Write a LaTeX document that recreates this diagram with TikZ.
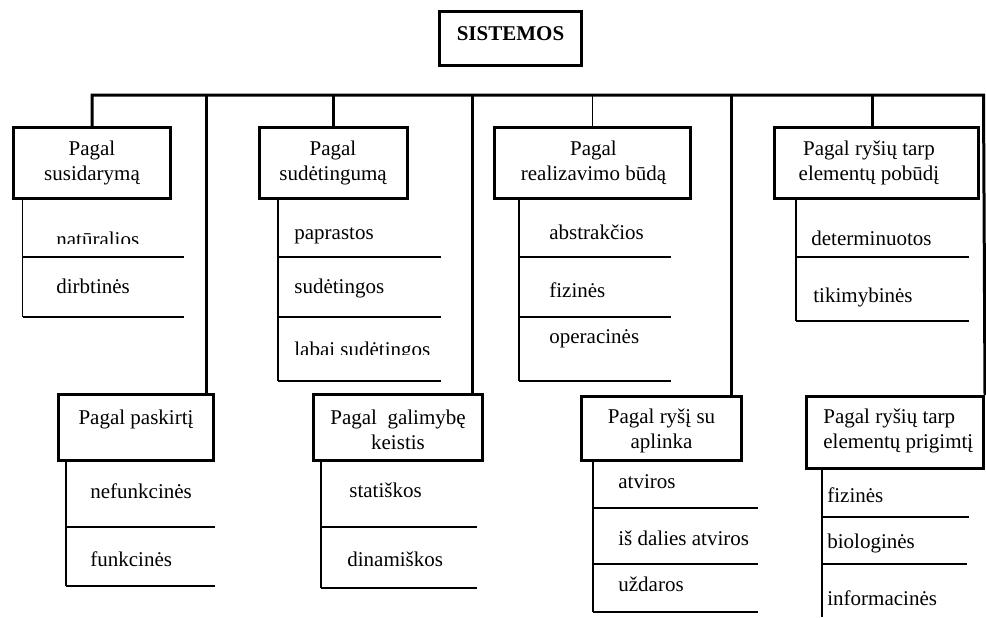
\documentclass[tikz,border=0pt]{standalone}
\usepackage{fontspec}
\setmainfont{Liberation Serif}
\begin{document}
\begin{tikzpicture}[
    x=0.5pt, y=-0.5pt,
    every node/.style={font=\fontsize{10.5}{12.5}\selectfont},
    box/.style={rectangle, draw, line width=1.5pt, inner sep=0pt},
    boxtext/.style={anchor=north, align=center, inner sep=0pt},
    item/.style={anchor=base west, inner sep=0pt},
    bus/.style={line width=1.5pt},
    rule/.style={line width=0.75pt}
]
    \useasboundingbox (0,0) rectangle (986,617);

    % Top: root
    \node[box, minimum width=71pt, minimum height=27pt] (sis) at (510.5,38.5) {};
    \node[boxtext, font=\fontsize{10.5}{12.5}\selectfont\bfseries] (sist) at (510.5,26.5) {SISTEMOS};

    % Upper row of boxes
    \node[box, minimum width=78.5pt, minimum height=35.5pt] (b1) at (92,163) {};
    \node[box, minimum width=74pt, minimum height=35.5pt] (b2) at (333.5,163) {};
    \node[box, minimum width=98pt, minimum height=35.5pt] (b3) at (592.5,163) {};
    \node[box, minimum width=102pt, minimum height=35.5pt] (b4) at (876.5,163) {};
    \node[boxtext] (t1) at (92,140.7) {Pagal\\susidarymą};
    \node[boxtext] (t2) at (333,140.7) {Pagal\\sudėtingumą};
    \node[boxtext] (t3) at (593.5,140.7) {Pagal\\realizavimo būdą};
    \node[boxtext] (t4) at (869,140.7) {Pagal ryšių tarp\\elementų pobūdį};

    % Lower row of boxes
    \node[box, minimum width=77.5pt, minimum height=33pt] (b5) at (136,427.5) {};
    \node[box, minimum width=84.5pt, minimum height=33pt] (b6) at (398,427.5) {};
    \node[box, minimum width=80pt, minimum height=32pt] (b7) at (661.5,428.5) {};
    \node[box, minimum width=88.5pt, minimum height=36pt] (b8) at (895,432.5) {};
    \node[boxtext] (t5) at (136,409.7) {Pagal paskirtį};
    \node[boxtext] (t6) at (398,409.7) {Pagal\ \ galimybę\\keistis};
    \node[boxtext] (t7) at (661.5,408.7) {Pagal ryšį su\\aplinka};
    \node[boxtext, anchor=north west, align=left] (t8) at (823,408.7) {Pagal ryšių tarp\\elementų prigimtį};

    % Bus and drops
    \coordinate (busL) at (92,95);
    \coordinate (busR) at (983.5,95);
    \coordinate (j4) at (872,95);
    \coordinate (j5) at (206,95);
    \coordinate (j6) at (472,95);
    \coordinate (j7) at (731,95);
    \draw[bus] (b1.north) |- (busR) -- (b8.north east);
    \draw[bus] (b2.north) -- (b2.north |- busL);
    \draw[line width=0.9pt] (b3.north) -- (b3.north |- busL);
    \draw[bus] (j4) -- (j4 |- b4.north);
    \draw[bus] (j5) -- (j5 |- b5.north);
    \draw[bus] (j6) -- (j6 |- b6.north);
    \draw[bus] (j7) -- (j7 |- b7.north);

    % List under b1
    \coordinate (l1) at (22.5,317);
    \draw[rule] (l1 |- b1.south) -- (l1);
    \foreach \y in {257,317} \draw[rule] (22.5,\y) -- (184,\y);
    \begin{scope}
        \clip (0,0) rectangle (986,243.5);
        \node[item] (i1a) at (56,246) {natūralios};
    \end{scope}
    \node[item] (i1b) at (56,293) {dirbtinės};

    % List under b2
    \coordinate (l2) at (278,381);
    \draw[rule] (l2 |- b2.south) -- (l2);
    \foreach \y in {257,317,381} \draw[rule] (278,\y) -- (441,\y);
    \node[item] (i2a) at (294,239) {paprastos};
    \node[item] (i2b) at (294,293) {sudėtingos};
    \begin{scope}
        \clip (0,0) rectangle (986,354.5);
        \node[item] (i2c) at (294,356) {labai sudėtingos};
    \end{scope}

    % List under b3
    \coordinate (l3) at (519,381);
    \draw[rule] (l3 |- b3.south) -- (l3);
    \foreach \y in {257,317,381} \draw[rule] (519,\y) -- (671,\y);
    \node[item] (i3a) at (549,239) {abstrakčios};
    \node[item] (i3b) at (549,297) {fizinės};
    \node[item] (i3c) at (549,343) {operacinės};

    % List under b4
    \coordinate (l4) at (796,321);
    \draw[rule] (l4 |- b4.south) -- (l4);
    \foreach \y in {257,321} \draw[rule] (796,\y) -- (969,\y);
    \node[item] (i4a) at (811,245) {determinuotos};
    \node[item] (i4b) at (813,302) {tikimybinės};

    % List under b5
    \coordinate (l5) at (66,586);
    \draw[rule] (l5 |- b5.south) -- (l5);
    \foreach \y in {527,586} \draw[rule] (66,\y) -- (215,\y);
    \node[item] (i5a) at (90,498) {nefunkcinės};
    \node[item] (i5b) at (90,566) {funkcinės};

    % List under b6
    \coordinate (l6) at (321,588);
    \draw[rule] (l6 |- b6.south) -- (l6);
    \foreach \y in {527,588} \draw[rule] (321,\y) -- (477,\y);
    \node[item] (i6a) at (349,497) {statiškos};
    \node[item] (i6b) at (347,566) {dinamiškos};

    % List under b7
    \coordinate (l7) at (593,612);
    \draw[rule] (l7 |- b7.south) -- (l7);
    \foreach \y in {508,564,612} \draw[rule] (593,\y) -- (758,\y);
    \node[item] (i7a) at (618,488) {atviros};
    \node[item] (i7b) at (618,545) {iš dalies atviros};
    \node[item] (i7c) at (618,591) {uždaros};

    % List under b8
    \coordinate (l8) at (822,617);
    \draw[rule] (l8 |- b8.south) -- (l8);
    \draw[rule] (822,517) -- (969,517);
    \draw[rule] (822,564) -- (967,564);
    \node[item] (i8a) at (827,502) {fizinės};
    \node[item] (i8b) at (827,548) {biologinės};
    \node[item] (i8c) at (827,605) {informacinės};
\end{tikzpicture}
\end{document}
